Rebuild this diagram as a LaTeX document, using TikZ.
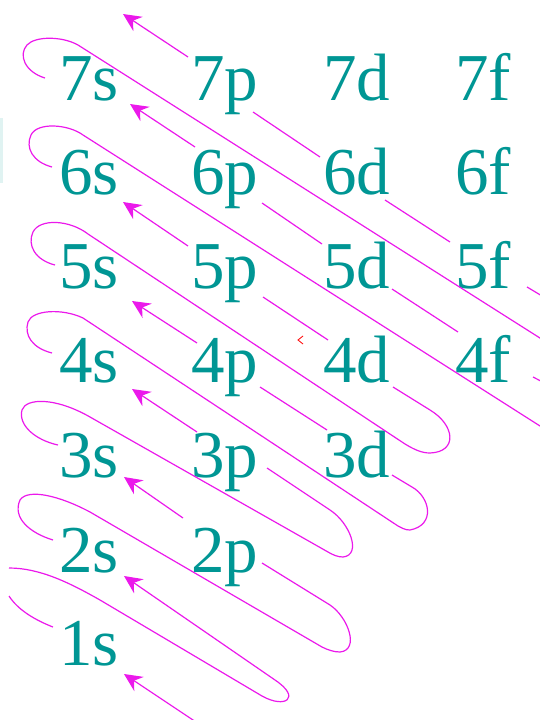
\documentclass[tikz,border=0pt]{standalone}
\usepackage{fontspec}
\setmainfont{Liberation Serif}
\usetikzlibrary{arrows.meta}
\definecolor{tealtext}{RGB}{0,150,148}
\definecolor{magline}{RGB}{235,25,235}
\begin{document}
\begin{tikzpicture}[x=1pt,y=-1pt,
  lab/.style={anchor=base west, inner sep=0pt, text=tealtext, font=\fontsize{67}{67}\selectfont},
  ln/.style={draw=magline, line width=1.2pt},
  arr/.style={ln, -{Stealth[length=18pt,width=17pt,inset=6pt]}}]
\useasboundingbox (0,0) rectangle (540,720);
\clip (0,0) rectangle (540,720);
% faint bar and stray mark
\fill[tealtext!12] (0,118) rectangle (2.5,183);
\draw[red, line width=0.8pt] (303,336) -- (298,340) -- (303,344);
% labels
\node[lab] (s7) at (59,100) {7s};
\node[lab] (p7) at (191,100) {7p};
\node[lab] (d7) at (323,100) {7d};
\node[lab] (f7) at (455,100) {7f};
\node[lab] (s6) at (59,194) {6s};
\node[lab] (p6) at (191,194) {6p};
\node[lab] (d6) at (323,194) {6d};
\node[lab] (f6) at (455,194) {6f};
\node[lab] (s5) at (59,288) {5s};
\node[lab] (p5) at (191,288) {5p};
\node[lab] (d5) at (323,288) {5d};
\node[lab] (f5) at (455,288) {5f};
\node[lab] (s4) at (59,382) {4s};
\node[lab] (p4) at (191,382) {4p};
\node[lab] (d4) at (323,382) {4d};
\node[lab] (f4) at (455,382) {4f};
\node[lab] (s3) at (59,477) {3s};
\node[lab] (p3) at (191,477) {3p};
\node[lab] (d3) at (323,477) {3d};
\node[lab] (s2) at (59,572) {2s};
\node[lab] (p2) at (191,572) {2p};
\node[lab] (s1) at (59,665) {1s};
% top arrow (5f-6d-7p)
\draw[ln] (562,308) -- (527,287);
\draw[ln] (450,242) -- (385,200);
\draw[ln] (320,157) -- (253,112);
\draw[arr] (188,57) -- (123,14);
% arrow to 7s (4f-5d-6p)
\draw[ln] (562,392) -- (533,377);
\draw[ln] (458,332) -- (392,289);
\draw[ln] (322,244) -- (262,203);
\draw[arr] (195,147) -- (130,104);
% arrow to 6s
\draw[ln] (328,340) -- (263,297);
\draw[arr] (188,246) -- (123,202);
% arrow to 5s
\draw[ln] (327,430) -- (260,387);
\draw[arr] (197,343) -- (132,301);
% arrow to 4s
\draw[arr] (197,432) -- (132,389);
% arrow to 3s
\draw[arr] (183,518) -- (124,477);
% arrow to 1s
\draw[arr] (202,726) -- (124,674);
% loops
\draw[ln] (45,78) .. controls (25,72) and (18,55) .. (27,45) .. controls (35,36) and (62,36) .. (78,45) -- (562,352);
\draw[ln] (52,167) .. controls (33,162) and (25,148) .. (31,135) .. controls (37,122) and (68,124) .. (83,135) -- (562,440);
\draw[ln] (393,387) -- (430,410) .. controls (455,425) and (458,452) .. (430,453) .. controls (422,453) and (415,450) .. (405,444) -- (88,234) .. controls (70,220) and (40,218) .. (33,232) .. controls (27,245) and (35,260) .. (55,265);
\draw[ln] (392,475) -- (412,487) .. controls (430,497) and (436,525) .. (410,530) .. controls (405,530) and (402,528) .. (398,526) -- (83,318) .. controls (62,308) and (32,310) .. (28,322) .. controls (24,335) and (32,348) .. (52,353);
\draw[ln] (267,468) -- (330,510) .. controls (350,523) and (362,555) .. (343,557) .. controls (338,557) and (333,555) .. (328,552) -- (90,417) .. controls (55,397) and (26,398) .. (22,410) .. controls (18,425) and (35,440) .. (58,445);
\draw[ln] (262,563) -- (330,605) .. controls (348,617) and (360,650) .. (340,652) .. controls (334,652) and (328,650) .. (322,647) -- (90,512) .. controls (60,496) and (28,488) .. (20,500) .. controls (12,518) and (30,533) .. (53,540);
\draw[ln] (53,627) .. controls (35,620) and (18,610) .. (9,596);
\draw[arr] (9,568) .. controls (40,568) and (70,583) .. (100,600) -- (262,696) .. controls (285,709) and (302,698) .. (275,680) -- (124,576);
\end{tikzpicture}
\end{document}
